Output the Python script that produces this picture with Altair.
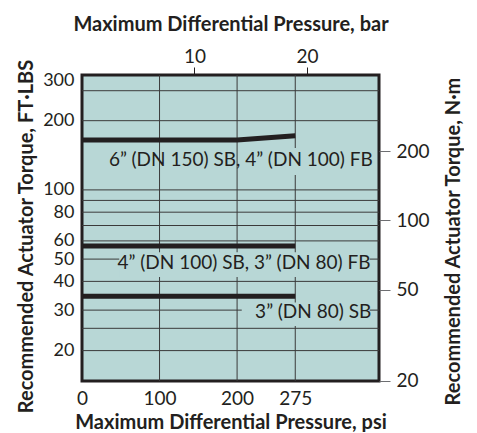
import altair as alt
import pandas as pd

# ---- data ----
psi_ticks = [0, 100, 200, 275]
bar_ticks = [10, 20]
ftlb_ticks = [20, 30, 40, 50, 60, 80, 100, 200, 300]
nm_ticks = [20, 50, 100, 200]
h_grid = [20, 25, 30, 40, 50, 60, 70, 80, 90, 100, 200, 270]
v_grid = [100, 200, 275]

series_6 = "6in"
s6_psi = [0, 200, 275]
s6_ft = [165, 165, 172]
series_4 = "4in"
s4_psi = [0, 275]
s4_ft = [57, 57]
series_3 = "3in"
s3_psi = [0, 275]
s3_ft = [34.5, 34.5]

label_text = ["6\u201d (DN 150) SB, 4\u201d (DN 100)  FB",
              "4\u201d (DN 100) SB, 3\u201d (DN 80) FB",
              "3\u201d (DN 80) SB"]
label_psi = [375, 372, 373]
label_ft = [126.6, 45.5, 27.7]

box_psi_from = [205, 48, 206]
box_psi_to = [380, 371, 371]
box_ft_low = [116, 41.8, 25.6]
box_ft_high = [152, 53.6, 32.4]

PSI_MAX = 383
FT_MIN = 14.751
FT_MAX = 316
PSI_PER_BAR = 14.5038
NM_PER_FTLB = 1.35582

# ---- styling ----
INK = "#231f20"
GRID = "#3a3a3a"
BG = "#b8d7d6"
FONT = "Lato"

lines_df = pd.DataFrame({
    "series": [series_6] * len(s6_psi) + [series_4] * len(s4_psi) + [series_3] * len(s3_psi),
    "psi": s6_psi + s4_psi + s3_psi,
    "ft": s6_ft + s4_ft + s3_ft,
})
labels_df = pd.DataFrame({"label": label_text, "psi": label_psi, "ft": label_ft})
boxes_df = pd.DataFrame({"psi": box_psi_from, "psi2": box_psi_to, "ft": box_ft_low, "ft2": box_ft_high})

xs = alt.Scale(domain=[0, PSI_MAX], nice=False, zero=False)
ys = alt.Scale(type="log", domain=[FT_MIN, FT_MAX], nice=False)

x_axis = alt.Axis(orient="bottom", values=psi_ticks, title="Maximum Differential Pressure, psi",
                  grid=False, ticks=False, domain=False, labelPadding=8, titlePadding=4,
                  format="d", labelFlush=False, labelOverlap=False)
y_axis = alt.Axis(orient="left", values=ftlb_ticks, title="Recommended Actuator Torque, FT\u00b7LBS",
                  grid=False, ticks=False, domain=False, labelPadding=8, titlePadding=6,
                  format="d", titleY=161, labelOverlap=False, labelFlush=False, labelFontSize=18)

X = alt.X("psi:Q", scale=xs, axis=x_axis)
Y = alt.Y("ft:Q", scale=ys, axis=y_axis)

hgrid = alt.Chart(pd.DataFrame({"ft": h_grid})).mark_rule(color=GRID, strokeWidth=1).encode(y=Y)
vgrid = alt.Chart(pd.DataFrame({"psi": v_grid})).mark_rule(color=GRID, strokeWidth=1).encode(x=X)
boxes = alt.Chart(boxes_df).mark_rect(color=BG).encode(
    x=X, x2=alt.X2("psi2:Q"), y=Y, y2=alt.Y2("ft2:Q"))
lines = alt.Chart(lines_df).mark_line(color=INK, strokeWidth=5, strokeCap="butt").encode(
    x=X, y=Y, detail="series:N")
text = alt.Chart(labels_df).mark_text(align="right", baseline="alphabetic", font=FONT, fontSize=19,
                                      color=INK).encode(x=X, y=Y, text="label:N")

main = alt.layer(hgrid, vgrid, boxes, lines, text)

top_axis = alt.Axis(orient="top", values=bar_ticks, title="Maximum Differential Pressure, bar",
                    grid=False, domain=False, tickSize=8, tickColor=INK, labelPadding=1,
                    titlePadding=13, format="d", labelOverlap=False)
right_axis = alt.Axis(orient="right", values=nm_ticks, title="Recommended Actuator Torque, N\u00b7m",
                      grid=False, domain=False, tickSize=11, tickColor="#6d6e71", labelPadding=6,
                      titlePadding=14, titleAngle=270, titleBaseline="top", format="d", titleY=166,
                      labelOverlap=False, labelFlush=False)

sec = alt.Chart(pd.DataFrame({"bar": [0.0], "nm": [20.0]})).mark_point(opacity=0).encode(
    x=alt.X("bar:Q", scale=alt.Scale(domain=[0, PSI_MAX / PSI_PER_BAR], nice=False, zero=False), axis=top_axis),
    y=alt.Y("nm:Q", scale=alt.Scale(type="log", domain=[FT_MIN * NM_PER_FTLB, FT_MAX * NM_PER_FTLB], nice=False),
            axis=right_axis),
)

chart = alt.layer(main, sec).resolve_scale(x="independent", y="independent").properties(
    width=297, height=306, padding={"left": 8, "top": 6, "right": 0, "bottom": 0}
).configure_view(fill=BG, stroke=INK, strokeWidth=3).configure_axis(
    labelFont=FONT, titleFont=FONT, labelFontSize=19, titleFontSize=20, titleFontWeight="bold",
    labelColor=INK, titleColor=INK
)

chart.save("out.html", embed_options={"renderer": "svg", "actions": False})
